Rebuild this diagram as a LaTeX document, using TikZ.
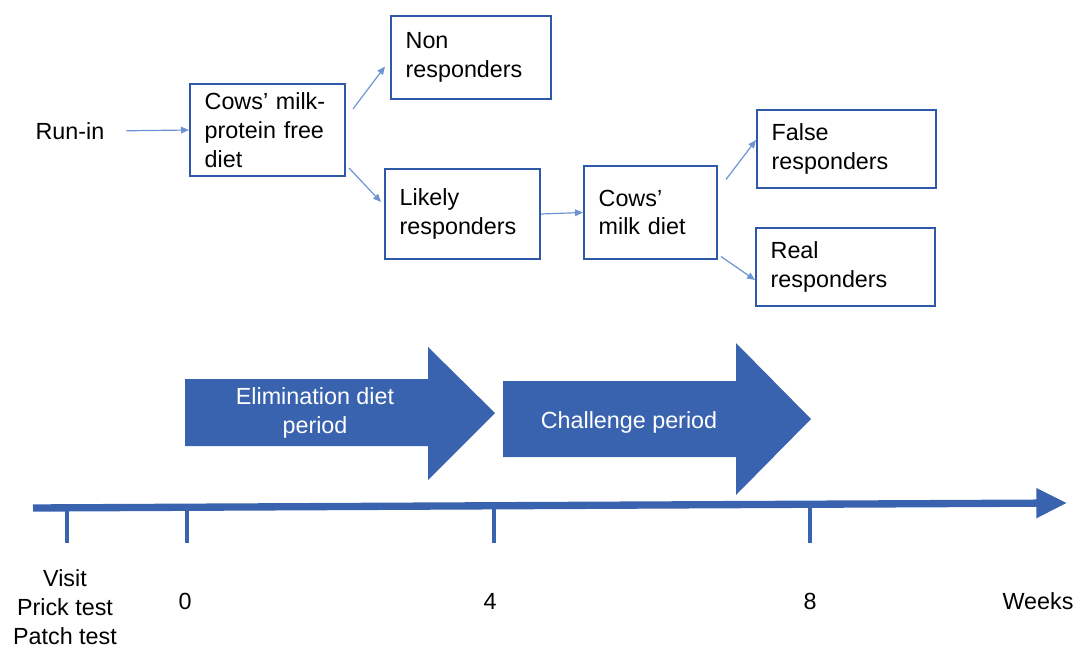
\documentclass[tikz,border=0pt]{standalone}
\usepackage{fontspec}
\setmainfont{Liberation Sans}
\usepackage{tikz}
\usetikzlibrary{arrows.meta, calc, positioning}
\definecolor{boxblue}{HTML}{2F58A8}
\definecolor{linkblue}{HTML}{6C94D2}
\definecolor{barblue}{HTML}{3A63AF}
\tikzset{
    stagebox/.style={draw=boxblue, line width=1.5pt, align=left, inner xsep=11pt, inner ysep=0pt},
    link/.style={draw=linkblue, line width=0.9pt, -{Triangle[length=6pt, width=5pt]}},
    bar/.style={fill=barblue},
}
\newcommand{\stagenode}[5]{
    \node[stagebox, minimum width=#3*0.75pt, minimum height=#4*0.75pt, text width=#3*0.75pt-22pt] (#1) at (#2) {#5};
}

\begin{document}
\begin{tikzpicture}[x=0.75pt, y=-0.75pt, font=\fontsize{17.5}{21.5}\selectfont]
                        \useasboundingbox (0,0) rectangle (1076,650);
                        \node (runin) at (70,131) {Run-in};
                        \stagenode{cmp}{267.5,130}{155}{92}{Cows' milk-\\protein free\\diet}
                        \stagenode{non}{471,57.5}{160}{83}{Non\\responders}
                        \stagenode{lik}{462.5,214}{155}{90}{Likely\\responders}
                        \stagenode{cmd}{650.5,212.5}{133}{93}{Cows'\\milk diet}
                        \stagenode{fal}{846.5,149}{179}{78}{False\\responders}
                        \stagenode{rea}{845.5,267}{179}{78}{Real\\responders}
                        \draw[link, shorten <=13pt] (runin.east) -- (cmp.west);
                        \draw[link] ($(cmp.east)+(7,-21)$) -- ($(non.west)+(-5,9)$);
                        \draw[link] ($(cmp.east)+(3,38)$) -- ($(lik.west)+(-3,-12)$);
                        \draw[link] (lik.east) -- (cmd.west);
                        \draw[link] ($(cmd.east)+(8,-33)$) -- ($(fal.west)+(0,-9)$);
                        \draw[link] ($(cmd.east)+(3,44)$) -- ($(rea.west)+(0,13)$);
                        \fill[bar] (185,379) -- (428,379) -- (428,347) -- (495,413) -- (428,480) -- (428,446) -- (185,446) -- cycle;
                        \fill[bar] (503,381) -- (736,381) -- (736,343) -- (811,419) -- (736,495) -- (736,457) -- (503,457) -- cycle;
                        \node[white, align=center] (elim) at (315,413) {Elimination diet\\period};
                        \node[white] (chal) at (629,422) {Challenge period};
                        \coordinate (tl-a) at (33,508);
                        \coordinate (tl-b) at (1067,503);
                        \draw[barblue, line width=5.5pt, -{Triangle[length=23pt, width=21pt]}] (tl-a) -- (tl-b);
                        \foreach \x in {67,187,494,810}
                            \draw[barblue, line width=3.6pt] (\x,506) -- (\x,543);
                        \node[align=center] (visit) at (65,607) {Visit\\Prick test\\Patch test};
                        \foreach \x/\w in {185/0, 490/4, 810/8}
                            \node (wk-\w) at (\x,601) {\w};
                        \node (weeks) at (1038,601) {Weeks};
                    \end{tikzpicture}
\end{document}
